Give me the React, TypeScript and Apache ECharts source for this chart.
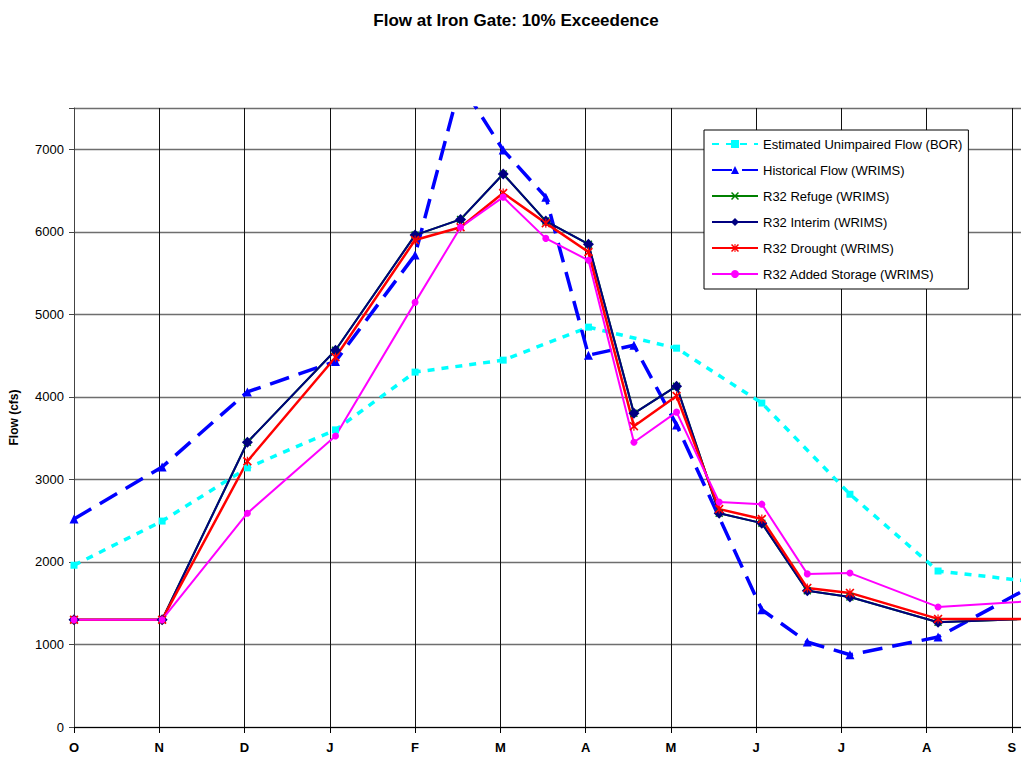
import React, { useEffect, useRef } from "react";
import * as echarts from "echarts";

// Month initials for the water year, one every 30 days on the axis
const monthLabels = ["O", "N", "D", "J", "F", "M", "A", "M", "J", "J", "A", "S"];

// Day offsets from 1 October of each value (monthly plus mid-month values)
const dayOffsets = [0, 31, 61, 92, 120, 136, 151, 166, 181, 197, 212, 227, 242, 258, 273, 304, 335];

// Flows in cfs; null where a record has no mid-month value
const unimpairedBOR = [1960, 2495, 3140, 3600, 4300, null, 4445, null, 4845, null, 4590, null, 3925, null, 2820, 1890, 1770];
const historicalWRIMS = [2520, 3150, 4060, 4430, 5720, 7800, 6990, 6420, 4505, 4625, 3660, null, 1420, 1030, 875, 1090, 1670];
const refugeR32 = [1300, 1300, 3450, 4565, 5960, 6150, 6700, 6130, 5850, 3800, 4130, 2590, 2470, 1650, 1575, 1270, 1310];
const interimR32 = [1300, 1300, 3450, 4565, 5960, 6150, 6700, 6130, 5850, 3800, 4130, 2590, 2470, 1650, 1575, 1270, 1310];
const droughtR32 = [1300, 1300, 3220, 4480, 5900, 6055, 6470, 6105, 5755, 3645, 4010, 2640, 2520, 1685, 1625, 1310, 1310];
const addedStorageR32 = [1300, 1300, 2590, 3525, 5145, 6055, 6420, 5920, 5655, 3450, 3815, 2725, 2700, 1855, 1865, 1455, 1520];

const FONT = "'Liberation Sans', Arial, sans-serif";

const xMarker =
  "path://M0,1.3 L1.3,0 L5,3.7 L8.7,0 L10,1.3 L6.3,5 L10,8.7 L8.7,10 L5,6.3 L1.3,10 L0,8.7 L3.7,5 Z";
const starMarker =
  "path://M0,1.3 L1.3,0 L5,3.7 L8.7,0 L10,1.3 L6.3,5 L10,8.7 L8.7,10 L5,6.3 L1.3,10 L0,8.7 L3.7,5 Z M4.35,0 L5.65,0 L5.65,10 L4.35,10 Z";

function pairs(values: (number | null)[]) {
  const out: [number, number][] = [];
  values.forEach((v, i) => {
    if (v !== null) out.push([dayOffsets[i], v]);
  });
  return out;
}

export default function App() {
  const ref = useRef<HTMLDivElement>(null);

  useEffect(() => {
    if (!ref.current) return;
    const chart = echarts.init(ref.current, undefined, { renderer: "svg" });

    const lineSeries = (
      name: string,
      values: (number | null)[],
      color: string,
      width: number,
      symbol: string,
      symbolSize: number,
      dash?: number[]
    ) => ({
      name,
      type: "line",
      data: pairs(values),
      symbol,
      symbolSize,
      showSymbol: true,
      clip: true,
      lineStyle: { color, width, type: dash ? dash : "solid", cap: "butt" },
      itemStyle: { color, borderWidth: 0 },
      emphasis: { disabled: true },
    });

    chart.setOption({
      animation: false,
      backgroundColor: "#ffffff",
      textStyle: { fontFamily: FONT },
      title: {
        text: "Flow at Iron Gate: 10% Exceedence",
        left: "center",
        top: 7,
        textStyle: { fontFamily: FONT, fontSize: 17, fontWeight: "bold", color: "#000" },
      },
      // the plot runs past the visible right edge; the outer frame crops it
      grid: { left: 73, top: 108, right: 0, bottom: 35, containLabel: false },
      legend: {
        orient: "vertical",
        left: 704,
        top: 130,
        padding: [7, 6, 8, 7],
        itemGap: 12,
        itemWidth: 46,
        itemHeight: 10,
        backgroundColor: "#ffffff",
        borderColor: "#000",
        borderWidth: 1,
        textStyle: { fontFamily: FONT, fontSize: 13, lineHeight: 14, color: "#000" },
        data: [
          "Estimated Unimpaired Flow (BOR)",
          "Historical Flow (WRIMS)",
          "R32 Refuge (WRIMS)",
          "R32 Interim (WRIMS)",
          "R32 Drought (WRIMS)",
          "R32 Added Storage (WRIMS)",
        ],
      },
      xAxis: {
        type: "value",
        min: 0,
        max: 336,
        interval: 30,
        axisLine: { show: true, lineStyle: { color: "#000", width: 1 } },
        axisTick: { show: true, length: 6, lineStyle: { color: "#000" } },
        axisLabel: {
          fontFamily: FONT,
          fontSize: 13,
          fontWeight: "bold",
          color: "#000",
          margin: 14,
          formatter: (v: number) => (v % 30 === 0 ? monthLabels[v / 30] ?? "" : ""),
        },
        splitLine: { show: true, lineStyle: { color: "#111", width: 1 } },
      },
      yAxis: {
        type: "value",
        min: 0,
        max: 7500,
        interval: 1000,
        name: "Flow (cfs)",
        nameLocation: "middle",
        nameGap: 54,
        nameTextStyle: { fontFamily: FONT, fontSize: 12, fontWeight: "bold", color: "#000" },
        axisLine: { show: true, lineStyle: { color: "#444", width: 1 } },
        axisTick: { show: true, length: 5, lineStyle: { color: "#444" } },
        axisLabel: {
          fontFamily: FONT,
          fontSize: 13,
          color: "#000",
          margin: 10,
          formatter: (v: number) => (v % 1000 === 0 ? String(v) : ""),
        },
        splitLine: { show: true, lineStyle: { color: "#6e6e6e", width: 1.3 } },
      },
      series: [
        lineSeries("Estimated Unimpaired Flow (BOR)", unimpairedBOR, "#00ffff", 3.5, "rect", 7, [7, 7]),
        lineSeries("Historical Flow (WRIMS)", historicalWRIMS, "#0000ff", 3.5, "triangle", 9, [20, 10]),
        lineSeries("R32 Refuge (WRIMS)", refugeR32, "#008000", 2, xMarker, 8),
        lineSeries("R32 Interim (WRIMS)", interimR32, "#000080", 2, "diamond", 11),
        lineSeries("R32 Drought (WRIMS)", droughtR32, "#ff0000", 2.5, starMarker, 9),
        lineSeries("R32 Added Storage (WRIMS)", addedStorageR32, "#ff00ff", 2, "circle", 7),
      ],
    });

    return () => chart.dispose();
  }, []);

  return (
    <div
      style={{
        position: "absolute",
        left: 0,
        top: 0,
        width: 1021,
        height: 762,
        overflow: "hidden",
        background: "#fff",
      }}
    >
      <div ref={ref} style={{ width: 1032, height: 762 }} />
    </div>
  );
}
